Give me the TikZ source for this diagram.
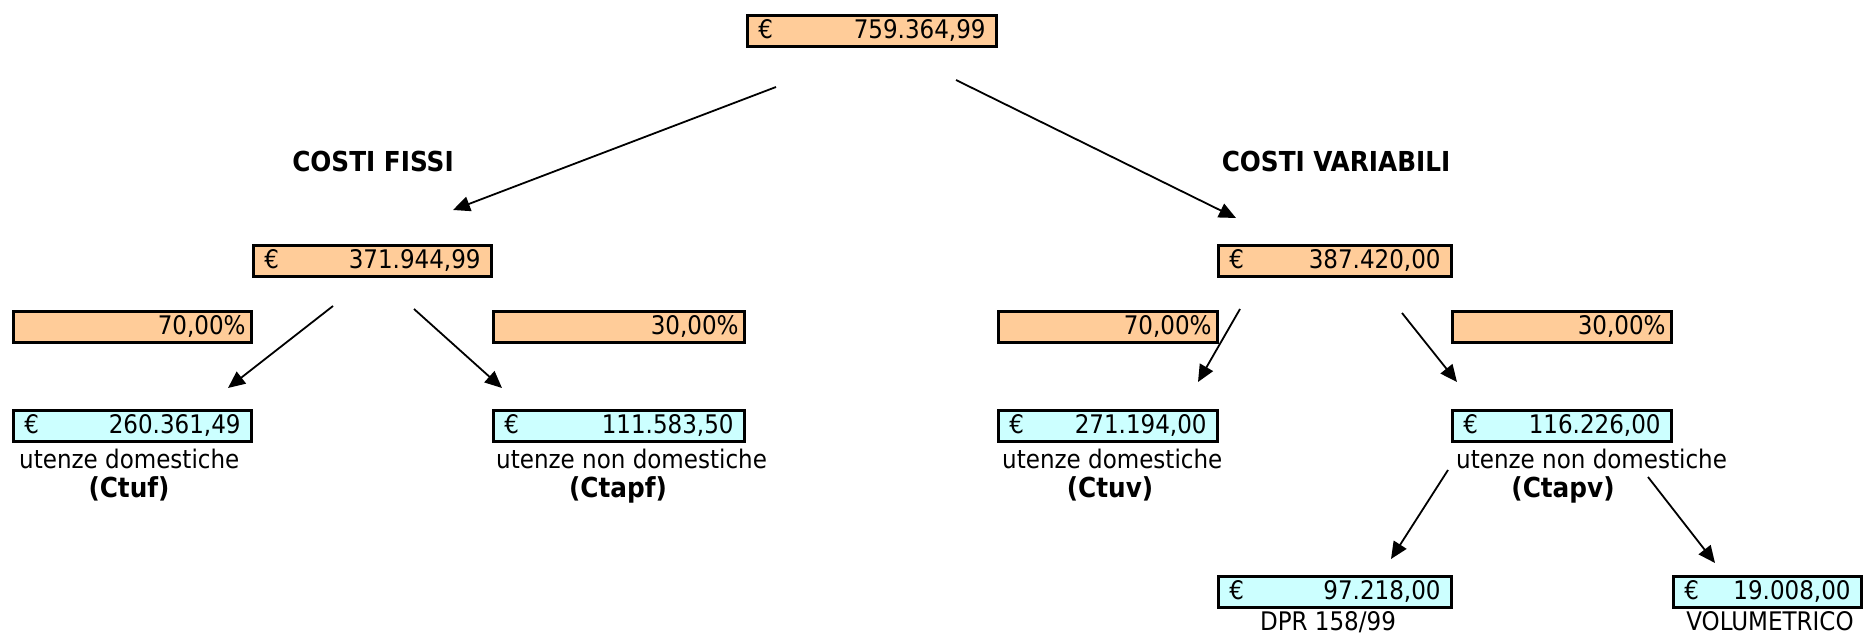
\documentclass[tikz,border=0pt]{standalone}
\usepackage{fontspec}
\setmainfont{DejaVu Sans Condensed}
\usetikzlibrary{arrows.meta}

\begin{document}
\begin{tikzpicture}[x=1pt, y=-1pt,
    every node/.style={font=\fontsize{25.6}{29}\selectfont},
    cella/.style={draw, line width=2.8pt, minimum height=31.2pt, inner xsep=11pt, inner ysep=0pt,
                  text height=21pt, text depth=6pt, text width=#1},
    arancio/.style={cella=#1, fill=orange1},
    ciano/.style={cella=#1, fill=cyan1},
    perc/.style={arancio=#1, inner xsep=6pt, align=right},
    etichetta/.style={anchor=base west, inner sep=0pt},
    centrato/.style={anchor=base, inner sep=0pt},
    codice/.style={anchor=base, inner sep=0pt, font=\fontsize{27.5}{30}\selectfont\bfseries},
    freccia/.style={line width=1.8pt, -{Triangle[length=17pt, width=15pt]}}]
% Define colors
\definecolor{orange1}{RGB}{255,204,153}
\definecolor{cyan1}{RGB}{204,255,255}

\useasboundingbox (0,0) rectangle (1865,636);

% totale
\node[arancio=227.2pt] (totale) at (872,31) {€\hfill 759.364,99};

\node[codice] (tfissi) at (373,172) {COSTI FISSI};
\node[codice] (tvariabili) at (1336,172) {COSTI VARIABILI};

% costi fissi
\node[arancio=216.2pt] (fissi) at (372.5,261) {€\hfill 371.944,99};
\node[perc=226.2pt] (pfd) at (132.5,327) {70,00\%};
\node[perc=239.2pt] (pfn) at (619,327) {30,00\%};
\node[ciano=216.2pt] (ctuf) at (132.5,426) {€\hfill 260.361,49};
\node[ciano=229.2pt] (ctapf) at (619,426) {€\hfill 111.583,50};
\node[etichetta] (lctuf) at (19,468) {utenze domestiche};
\node[codice] (cctuf) at (129,497) {(Ctuf)};
\node[etichetta] (lctapf) at (496,468) {utenze non domestiche};
\node[codice] (cctapf) at (618,497) {(Ctapf)};

% costi variabili
\node[arancio=211.2pt] (variabili) at (1335,261) {€\hfill 387.420,00};
\node[perc=207.2pt] (pvd) at (1108,327) {70,00\%};
\node[perc=207.2pt] (pvn) at (1562,327) {30,00\%};
\node[ciano=197.2pt] (ctuv) at (1108,426) {€\hfill 271.194,00};
\node[ciano=197.2pt] (ctapv) at (1562,426) {€\hfill 116.226,00};
\node[etichetta] (lctuv) at (1002,468) {utenze domestiche};
\node[codice] (cctuv) at (1110,497) {(Ctuv)};
\node[etichetta] (lctapv) at (1456,468) {utenze non domestiche};
\node[codice] (cctapv) at (1563,497) {(Ctapv)};

% ripartizione Ctapv
\node[ciano=211.2pt] (dpr) at (1335,592) {€\hfill 97.218,00};
\node[ciano=166.2pt] (vol) at (1767.5,592) {€\hfill 19.008,00};
\node[centrato] (ldpr) at (1328,630) {DPR 158/99};
\node[centrato] (lvol) at (1770,630) {VOLUMETRICO};

% arrows
\coordinate (s1) at (776,87);   \coordinate (e1) at (453,210);
\coordinate (s2) at (956,80);   \coordinate (e2) at (1236,218);
\coordinate (s3) at (333,306);  \coordinate (e3) at (228,388);
\coordinate (s4) at (414,309);  \coordinate (e4) at (502,388);
\coordinate (s5) at (1240,309); \coordinate (e5) at (1198,382);
\coordinate (s6) at (1402,313); \coordinate (e6) at (1457,382);
\coordinate (s7) at (1448,470); \coordinate (e7) at (1391,559);
\coordinate (s8) at (1648,477); \coordinate (e8) at (1715,563);
\foreach \i in {1,...,8}
        \draw[freccia] (s\i) -- (e\i);
\end{tikzpicture}
\end{document}
